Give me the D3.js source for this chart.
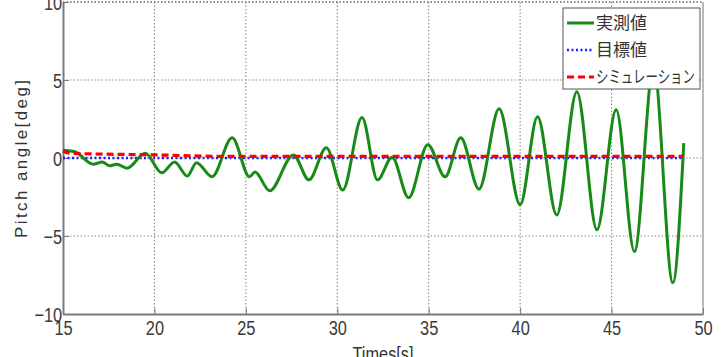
<!DOCTYPE html>
<html>
<head>
<meta charset="utf-8">
<script src="https://cdn.jsdelivr.net/npm/d3@7"></script>
<style>
  body { margin: 0; background: #fff; }
  svg { display: block; }
</style>
</head>
<body>
<script>

var measT = [15.0, 15.65, 16.65, 17.15, 17.55, 17.95, 18.5, 19.5, 20.4, 21.1, 21.8, 22.3, 23.15,
  24.25, 25.2, 25.5, 26.3, 27.6, 28.45, 29.4, 30.3, 31.35, 32.2, 33.0, 33.9, 34.95, 35.9,
  36.75, 37.75, 38.85, 40.0, 40.95, 42.0, 43.1, 44.2, 45.25, 46.25, 47.3, 48.35, 48.95];
var measV = [0.5, 0.4, -0.4, -0.25, -0.5, -0.4, -0.65, 0.3, -0.95, -0.25, -1.15, -0.3, -1.2,
  1.3, -1.2, -0.9, -2.1, 0.2, -1.4, 0.65, -2.05, 2.6, -1.4, 0.05, -2.55, 0.85, -1.2,
  1.3, -2.0, 3.15, -3.0, 2.65, -3.65, 4.25, -4.6, 3.1, -6.0, 5.9, -8.0, 0.95];

// target
var targT = [15, 48.95];
var targV = [0, 0];

// simulation
var simT = [15, 15.4, 20, 24, 48.95];
var simV = [0.45, 0.3, 0.2, 0.1, 0.1];

var xTicks = [15, 20, 25, 30, 35, 40, 45, 50];
var yTicks = [-10, -5, 0, 5, 10];
var legendNames = ["実測値", "目標値", "シミュレーション"];

var w = 722, h = 357;
var pLeft = 63, pTop = 2, pw = 640, ph = 312;

var svg = d3.select("body").append("svg")
  .attr("width", w)
  .attr("height", h);

var x = d3.scaleLinear().domain([15, 50]).range([pLeft, pLeft + pw]);
var y = d3.scaleLinear().domain([-10, 10]).range([pTop + ph, pTop]);

// grid
svg.append("g").selectAll("line")
  .data(xTicks.slice(1, -1))
  .enter().append("line")
  .attr("x1", function(d) { return x(d); })
  .attr("x2", function(d) { return x(d); })
  .attr("y1", pTop).attr("y2", pTop + ph)
  .attr("stroke", "#8c8c8c").attr("stroke-width", 1.1)
  .attr("stroke-dasharray", "1.5,2");

svg.append("g").selectAll("line")
  .data(yTicks.slice(1))
  .enter().append("line")
  .attr("x1", pLeft).attr("x2", pLeft + pw)
  .attr("y1", function(d) { return y(d); })
  .attr("y2", function(d) { return y(d); })
  .attr("stroke", function(d) { return d == 10 ? "#666" : "#8c8c8c"; })
  .attr("stroke-width", function(d) { return d == 10 ? 1.5 : 1.1; })
  .attr("stroke-dasharray", "1.5,2");

// right border
svg.append("line")
  .attr("x1", pLeft + pw).attr("x2", pLeft + pw)
  .attr("y1", pTop).attr("y2", pTop + ph)
  .attr("stroke", "#8a8a8a").attr("stroke-width", 1.2);

// axes
var xAxis = d3.axisBottom(x).tickValues(xTicks).tickSizeInner(-6).tickSizeOuter(0).tickPadding(10);
var yAxis = d3.axisLeft(y).tickValues(yTicks).tickSizeInner(-6).tickSizeOuter(0).tickPadding(3);

var gx = svg.append("g").attr("transform", "translate(0," + (pTop + ph) + ")").call(xAxis);
var gy = svg.append("g").attr("transform", "translate(" + pLeft + ",0)").call(yAxis);

[gx, gy].forEach(function(g) {
  g.select(".domain").attr("stroke", "#7a7a7a").attr("stroke-width", 2);
  g.selectAll(".tick line").attr("stroke", "#7a7a7a");
  g.selectAll(".tick text")
    .attr("fill", "#3a3a3a")
    .style("font-family", "'Liberation Sans', Arial, sans-serif")
    .style("font-size", "21px");
});
gx.selectAll(".tick text").attr("y", 5).attr("transform", "scale(0.78,1)").attr("dy", "0.75em");
gy.selectAll(".tick text").attr("x", -1).attr("transform", "scale(0.78,1)").attr("dy", "0.36em");

// lines
function pts(ts, vs) { return ts.map(function(t, i) { return [t, vs[i]]; }); }

var line = d3.line()
  .x(function(d) { return x(d[0]); })
  .y(function(d) { return y(d[1]); })
  .curve(d3.curveMonotoneX);

svg.append("path")
  .datum(pts(targT, targV))
  .attr("d", line)
  .attr("fill", "none").attr("stroke", "#1f1fff")
  .attr("stroke-width", 2.5).attr("stroke-dasharray", "2,2.5");

svg.append("path")
  .datum(pts(measT, measV))
  .attr("d", line)
  .attr("fill", "none").attr("stroke", "#178a17")
  .attr("stroke-width", 3).attr("stroke-linejoin", "round");

svg.append("path")
  .datum(pts(simT, simV))
  .attr("d", line)
  .attr("fill", "none").attr("stroke", "#ff0000")
  .attr("stroke-width", 3.2).attr("stroke-dasharray", "7,4");

// legend
var lg = svg.append("g");
lg.append("rect")
  .attr("x", 563).attr("y", 8).attr("width", 137).attr("height", 81)
  .attr("fill", "#fff").attr("stroke", "#555").attr("stroke-width", 1);

var styles = [
  { c: "#178a17", dash: null, wdt: 3 },
  { c: "#1f1fff", dash: "2,2.5", wdt: 2.5 },
  { c: "#ff0000", dash: "7,4", wdt: 3.2 }
];

legendNames.forEach(function(name, i) {
  var yy = 23 + i * 27;
  lg.append("line")
    .attr("x1", 567).attr("x2", 594)
    .attr("y1", yy).attr("y2", yy)
    .attr("stroke", styles[i].c).attr("stroke-width", styles[i].wdt)
    .attr("stroke-dasharray", styles[i].dash);
  var t = lg.append("text")
    .attr("x", 596).attr("y", yy + 6)
    .attr("fill", "#333")
    .style("font-family", "'Noto Sans CJK JP', sans-serif")
    .style("font-size", "17px")
    .text(name);
  if (i == 2) t.attr("textLength", 99).attr("lengthAdjust", "spacingAndGlyphs");
});

// axis labels
svg.append("text")
  .attr("x", 383).attr("y", 361)
  .attr("text-anchor", "middle")
  .attr("fill", "#333")
  .attr("textLength", 61).attr("lengthAdjust", "spacingAndGlyphs")
  .style("font-family", "'Liberation Sans', Arial, sans-serif")
  .style("font-size", "20px")
  .text("Times[s]");

svg.append("text")
  .attr("transform", "translate(27,159) rotate(-90)")
  .attr("x", -79).attr("y", 0)
  .attr("fill", "#333")
  .attr("textLength", 158).attr("lengthAdjust", "spacing")
  .style("font-family", "'Liberation Sans', Arial, sans-serif")
  .style("font-size", "17px")
  .text("Pitch angle[deg]");

</script>
</body>
</html>
